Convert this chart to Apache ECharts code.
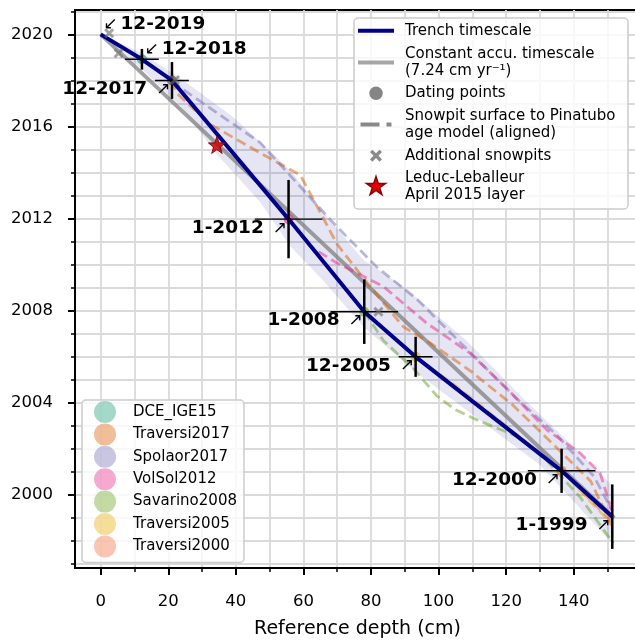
<!DOCTYPE html>
<html>
<head>
<meta charset="UTF-8">
<title>Trench timescale</title>
<script src="https://cdn.jsdelivr.net/npm/echarts@6/dist/echarts.min.js"></script>
<style>
    html, body { margin: 0; padding: 0; background: #fff; }
    #chart { width: 635px; height: 641px; }
</style>
</head>
<body>
<div id="chart"></div>
<script>
// axes
var depthMin = -7.6, depthMax = 159.6;
var yearMin = 1996.83, yearMax = 2021.06;
var depthMinorTicks = [0, 10, 20, 30, 40, 50, 60, 70, 80, 90, 100, 110, 120, 130, 140, 150];
var depthMajorTicks = [0, 20, 40, 60, 80, 100, 120, 140];
var yearMinorTicks = [1997, 1998, 1999, 2000, 2001, 2002, 2003, 2004, 2005, 2006, 2007, 2008, 2009,
    2010, 2011, 2012, 2013, 2014, 2015, 2016, 2017, 2018, 2019, 2020, 2021];
var yearMajorTicks = [2000, 2004, 2008, 2012, 2016, 2020];

// trench timescale / dating points
var datingLabels = ['12-2019', '12-2018', '12-2017', '1-2012', '1-2008', '12-2005', '12-2000', '1-1999'];
var datingDepth = [0, 12.2, 21.1, 55.6, 78.0, 93.2, 136.4, 151.4];
var datingYear = [2020.0, 2018.92, 2018.0, 2011.98, 2007.96, 2006.0, 2001.05, 1999.06];
var depthErr = [0, 5, 5, 10, 10, 5, 10, 0];
var yearErr = [0, 0.45, 0.8, 1.7, 1.4, 0.87, 0.96, 1.4];
var labelAbove = [true, true, false, false, false, false, false, false];

// constant accumulation timescale (7.24 cm/yr)
var constDepth = [0, 152];
var constYear = [2020.0, 1999.0];

// uncertainty envelope
var bandUpper = [[0, 2020], [12, 2019.2], [24.5, 2018.0], [39.3, 2016.4], [56.1, 2014.1], [66.9, 2012.1],
    [77.8, 2010.2], [89.6, 2009.05], [108.3, 2006.7], [125, 2004.2], [142, 2001.8], [151.4, 2000.4]];
var bandLower = [[0, 2020], [12.2, 2018.5], [23.5, 2016.9], [34.4, 2014.8], [47.3, 2012.7], [56.1, 2010.8],
    [65.9, 2009.3], [77.8, 2007.3], [93.6, 2005.3], [110, 2003.5], [130, 2001.3], [151.4, 1997.9]];

// snowpit studies
var studies = ['DCE_IGE15', 'Traversi2017', 'Spolaor2017', 'VolSol2012', 'Savarino2008', 'Traversi2005', 'Traversi2000'];
var studyColors = ['#1b9e77', '#d95f02', '#7570b3', '#e7298a', '#66a61e', '#e6ab02', '#f46d43'];
var studyDepth = [12.2, 21.1, 21.1, 55.6, 78.0, 93.2, 136.4];
var studyYear = [2018.92, 2018.0, 2018.0, 2011.98, 2007.96, 2006.0, 2001.05];

// snowpit surface to Pinatubo age models (aligned)
var pitTraversi2017 = [[21.1, 2018.0], [22.5, 2017.45], [32.4, 2016.1], [47.2, 2014.85], [59, 2013.9], [62, 2013.1],
    [69.9, 2010.9], [79.7, 2009.05], [89.6, 2007.3], [97.5, 2006.6], [109.3, 2005.4], [122, 2003.9],
    [136, 2001.9], [145, 2000.6], [151.5, 1998.6]];
var pitSpolaor2017 = [[21.1, 2018.0], [24.5, 2017.6], [37.3, 2016.3], [47.2, 2015.3], [59, 2013.4], [69.9, 2011.65],
    [81.7, 2009.9], [93.6, 2008.5], [109.3, 2006.2], [123, 2004.2], [135, 2002.6], [146, 2000.8], [151.4, 1999.3]];
var pitVolSol2012 = [[55.6, 2012.0], [62, 2010.8], [69.9, 2010.07], [83.7, 2009.05], [96.5, 2007.46], [109.3, 2006.16],
    [121, 2004.5], [132, 2002.83], [141.9, 2001.82], [147.8, 2000.95], [151.2, 1999.35]];
var pitSavarino2008 = [[78, 2007.96], [83.7, 2006.7], [92.5, 2005.5], [99.5, 2004.3], [105, 2003.7], [112.3, 2003.2],
    [124.1, 2002.5], [132, 2001.5], [141.9, 1999.9], [151.7, 1997.9]];
var pitTraversi2005 = [[93.2, 2006.0], [105, 2004.75], [120, 2003.0], [136.4, 2001.05], [151.5, 1998.7]];
var pitTraversi2000 = [[136.4, 2001.05], [151.5, 1998.8]];
var pitLines = [
    { study: 'Traversi2017', data: pitTraversi2017 },
    { study: 'Spolaor2017', data: pitSpolaor2017 },
    { study: 'VolSol2012', data: pitVolSol2012 },
    { study: 'Savarino2008', data: pitSavarino2008 },
    { study: 'Traversi2005', data: pitTraversi2005 },
    { study: 'Traversi2000', data: pitTraversi2000 }
];

// additional snowpits and the April 2015 layer
var extraPitDepth = [2.5, 5.3, 22.0, 82.2];
var extraPitYear = [2020.05, 2019.18, 2018.02, 2007.96];
var layerDepth = [34.4];
var layerYear = [2015.2];

var FONT = 'DejaVu Sans';
var xPath = 'path://M2,0L5,3L8,0L10,2L7,5L10,8L8,10L5,7L2,10L0,8L3,5L0,2Z';
var starPath = 'path://M50,0L61.76,33.82L97.55,34.55L69.02,56.18L79.39,90.45L50,70L20.61,90.45L30.98,56.18L2.45,34.55L38.24,33.82Z';

function rgba(hex, a) {
    var n = parseInt(hex.slice(1), 16);
    return 'rgba(' + (n >> 16) + ',' + ((n >> 8) & 255) + ',' + (n & 255) + ',' + a + ')';
}
function zip(xs, ys) {
    return xs.map(function (x, i) { return [x, ys[i]]; });
}

var chart = echarts.init(document.getElementById('chart'));

var series = [];

// 不确定性范围
series.push({
    type: 'custom', name: 'band', z: 1, silent: true,
    data: [[0, 2020]],
    renderItem: function (params, api) {
        var pts = [];
        bandUpper.forEach(function (p) { pts.push(api.coord(p)); });
        bandLower.slice().reverse().forEach(function (p) { pts.push(api.coord(p)); });
        return { type: 'polygon', shape: { points: pts }, style: { fill: 'rgba(0,0,139,0.1)' } };
    }
});

series.push({
    type: 'line', name: 'constant', z: 2, showSymbol: false, silent: true,
    data: zip(constDepth, constYear),
    lineStyle: { color: 'rgba(128,128,128,0.75)', width: 4 }
});

pitLines.forEach(function (p) {
    var c = studyColors[studies.indexOf(p.study)];
    series.push({
        type: 'line', name: p.study + ' age model', z: 3, showSymbol: false, silent: true,
        data: p.data,
        lineStyle: { color: rgba(c, 0.5), width: 2.8, type: [10, 5] }
    });
});

studies.forEach(function (s, i) {
    series.push({
        type: 'scatter', name: s, z: 4, symbol: 'circle', symbolSize: 10, silent: true,
        data: [[studyDepth[i], studyYear[i]]],
        itemStyle: { color: rgba(studyColors[i], 0.8) }
    });
});

series.push({
    type: 'line', name: 'trench', z: 5, showSymbol: false, silent: true,
    data: zip(datingDepth, datingYear),
    lineStyle: { color: '#00008b', width: 4 }
});

// 误差棒
series.push({
    type: 'custom', name: 'errors', z: 6, silent: true,
    data: datingDepth.map(function (d, i) { return [d, datingYear[i], depthErr[i], yearErr[i]]; }),
    renderItem: function (params, api) {
        var x = api.value(0), y = api.value(1), ex = api.value(2), ey = api.value(3);
        var l = api.coord([x - ex, y]), r = api.coord([x + ex, y]);
        var t = api.coord([x, y + ey]), b = api.coord([x, y - ey]);
        return {
            type: 'group', children: [
                { type: 'line', shape: { x1: l[0], y1: l[1], x2: r[0], y2: r[1] }, style: { stroke: '#000', lineWidth: 1.4 } },
                { type: 'line', shape: { x1: t[0], y1: t[1], x2: b[0], y2: b[1] }, style: { stroke: '#000', lineWidth: 2.5 } }
            ]
        };
    }
});

series.push({
    type: 'scatter', name: 'Additional snowpits', z: 7, symbol: xPath, symbolSize: 10, silent: true,
    data: zip(extraPitDepth, extraPitYear),
    itemStyle: { color: 'rgba(110,110,110,0.8)' }
});

series.push({
    type: 'scatter', name: 'Leduc-Leballeur', z: 7, symbol: starPath, symbolSize: 17, silent: true,
    data: zip(layerDepth, layerYear),
    itemStyle: { color: '#cc0000', borderColor: '#7a0000', borderWidth: 1, opacity: 0.85 }
});

// 标注
var labelRich = {
    b: { fontFamily: FONT, fontWeight: 'bold', fontSize: 18.5, color: '#000' },
    a: { fontFamily: FONT, fontSize: 17, color: '#000', padding: [0, 0, 0, 9] },
    c: { fontFamily: FONT, fontSize: 17, color: '#000', padding: [0, 3, 0, 0] }
};
var aboveData = [], belowData = [];
datingLabels.forEach(function (t, i) {
    var item = { value: [datingDepth[i], datingYear[i]], name: t };
    (labelAbove[i] ? aboveData : belowData).push(item);
});
series.push({
    type: 'scatter', name: 'labelsAbove', z: 8, symbolSize: 1, silent: true,
    itemStyle: { color: 'rgba(0,0,0,0)' },
    data: aboveData,
    label: {
        show: true, position: 'right', distance: 2, offset: [0, -10], color: '#000', opacity: 1,
        formatter: function (p) { return '{c|↙}{b|' + p.name + '}'; },
        rich: labelRich
    }
});
series.push({
    type: 'scatter', name: 'labelsBelow', z: 8, symbolSize: 1, silent: true,
    itemStyle: { color: 'rgba(0,0,0,0)' },
    data: belowData,
    label: {
        show: true, position: 'left', distance: 1, offset: [0, 9], color: '#000', opacity: 1,
        formatter: function (p) { return '{b|' + p.name + '}{a|↗}'; },
        rich: labelRich
    }
});

var axisBase = {
    type: 'value',
    axisLine: { show: false, onZero: false },
    splitLine: { show: false }
};

function legendText(t, y) {
    return { type: 'text', x: 51, y: y, style: { text: t, fontSize: 15, lineHeight: 17.5, fontFamily: FONT, fill: '#000', verticalAlign: 'middle' } };
}

var legendItems = [
    { type: 'rect', shape: { x: 0, y: 0, width: 274, height: 191, r: 4 },
      style: { fill: 'rgba(255,255,255,0.8)', stroke: '#cccccc', lineWidth: 1.5 } },
    { type: 'line', shape: { x1: 4, y1: 12.7, x2: 40, y2: 12.7 }, style: { stroke: '#00008b', lineWidth: 4 } },
    legendText('Trench timescale', 12.7),
    { type: 'line', shape: { x1: 4, y1: 44.5, x2: 40, y2: 44.5 }, style: { stroke: 'rgba(128,128,128,0.7)', lineWidth: 4 } },
    legendText('Constant accu. timescale\n(7.24 cm yr⁻¹)', 44.5),
    { type: 'circle', shape: { cx: 22, cy: 75.3, r: 6.7 }, style: { fill: '#858585' } },
    legendText('Dating points', 75.3),
    { type: 'line', shape: { x1: 6.5, y1: 106.5, x2: 25.5, y2: 106.5 }, style: { stroke: '#888888', lineWidth: 4 } },
    { type: 'line', shape: { x1: 32.5, y1: 106.5, x2: 37.5, y2: 106.5 }, style: { stroke: '#888888', lineWidth: 4 } },
    legendText('Snowpit surface to Pinatubo\nage model (aligned)', 106.5),
    { type: 'polygon', shape: { points: [[18.4, 131.7], [22, 135.3], [25.6, 131.7], [28, 134.1], [24.4, 137.7], [28, 141.3],
        [25.6, 143.7], [22, 140.1], [18.4, 143.7], [16, 141.3], [19.6, 137.7], [16, 134.1]] },
      style: { fill: '#8a8a8a' } },
    legendText('Additional snowpits', 137.7),
    { type: 'polygon', shape: { points: [[22, 158.5], [24.25, 165.41], [31.51, 165.41], [25.63, 169.68], [27.88, 176.59],
        [22, 172.32], [16.12, 176.59], [18.37, 169.68], [12.49, 165.41], [19.75, 165.41]] },
      style: { fill: '#e00000', stroke: '#8b0000', lineWidth: 1.5 } },
    legendText('Leduc-Leballeur\nApril 2015 layer', 168.5)
];
legendItems.forEach(function (el, i) { el.z = 100 + i; });

var option = {
    animation: false,
    backgroundColor: '#fff',
    grid: { left: 75, right: -5, top: 10, bottom: 73, show: true, borderColor: '#000', borderWidth: 2,
        containLabel: false, outerBoundsMode: 'none' },
    xAxis: [
        echarts.util.merge({
            min: depthMin, max: depthMax, position: 'bottom',
            axisLine: { show: true, lineStyle: { color: '#000', width: 2 } },
            axisTick: { show: true, length: 4, lineStyle: { color: '#000', width: 1.5 }, customValues: depthMinorTicks },
            axisLabel: { show: false, customValues: depthMinorTicks },
            splitLine: { show: true, lineStyle: { color: '#dadada', width: 1.8 } }
        }, axisBase),
        echarts.util.merge({
            min: depthMin, max: depthMax, position: 'bottom',
            axisTick: { show: true, length: 7, lineStyle: { color: '#000', width: 2 }, customValues: depthMajorTicks },
            axisLabel: { show: true, customValues: depthMajorTicks, margin: 25, color: '#000', fontSize: 16.5, fontFamily: FONT,
                formatter: function (v) { return String(v); } },
            name: 'Reference depth (cm)', nameLocation: 'middle', nameGap: 52,
            nameTextStyle: { color: '#000', fontSize: 19, fontFamily: FONT }
        }, axisBase)
    ],
    yAxis: [
        echarts.util.merge({
            min: yearMin, max: yearMax, position: 'left',
            axisLine: { show: true, lineStyle: { color: '#000', width: 2 } },
            axisTick: { show: true, length: 4, lineStyle: { color: '#000', width: 1.5 }, customValues: yearMinorTicks },
            axisLabel: { show: false, customValues: yearMinorTicks },
            splitLine: { show: true, lineStyle: { color: '#dadada', width: 1.8 } }
        }, axisBase),
        echarts.util.merge({
            min: yearMin, max: yearMax, position: 'left',
            axisTick: { show: true, length: 7, lineStyle: { color: '#000', width: 2 }, customValues: yearMajorTicks },
            axisLabel: { show: true, customValues: yearMajorTicks, margin: 22, color: '#000', fontSize: 16.5, fontFamily: FONT,
                formatter: function (v) { return String(v); } }
        }, axisBase)
    ],
    legend: {
        orient: 'vertical', left: 82, top: 400,
        data: studies.map(function (s, i) { return { name: s, itemStyle: { color: rgba(studyColors[i], 0.5) } }; }),
        icon: 'circle', itemWidth: 22, itemHeight: 22, itemGap: 0.4,
        padding: [1, 7, 5, 12],
        textStyle: { fontFamily: FONT, fontSize: 15, color: '#000', padding: [0, 0, 0, 12] },
        backgroundColor: 'rgba(255,255,255,0.8)', borderColor: '#cccccc', borderWidth: 1.5, borderRadius: 4,
        selectedMode: false
    },
    graphic: [{
        type: 'group', x: 354, y: 18, z: 100,
        children: legendItems
    }],
    series: series
};

chart.setOption(option);
</script>
</body>
</html>
